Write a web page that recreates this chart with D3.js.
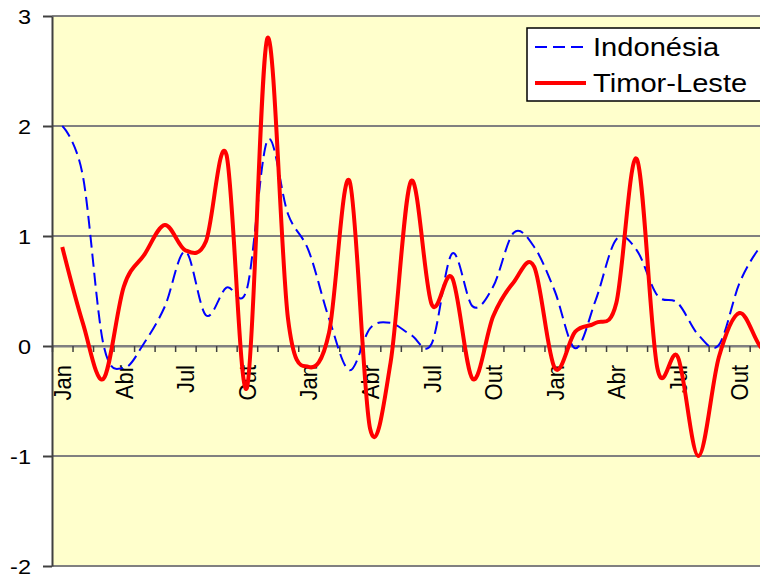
<!DOCTYPE html>
<html><head><meta charset="utf-8">
<script src="https://cdn.jsdelivr.net/npm/d3@7/dist/d3.min.js"></script>
<style>body{margin:0;background:#fff;} svg{display:block;} text{font-family:"Liberation Sans",Arial,sans-serif;fill:#000;}</style>
</head><body>
<script>
const months = ["Jan","Fev","Mar","Abr","Mai","Jun","Jul","Ago","Set","Out","Nov","Dez",
                "Jan","Fev","Mar","Abr","Mai","Jun","Jul","Ago","Set","Out","Nov","Dez",
                "Jan","Fev","Mar","Abr","Mai","Jun","Jul","Ago","Set","Out","Nov","Dez"];
const shownLabels = ["Jan","Abr","Jul","Out"];
const yTicks = [-2,-1,0,1,2,3];
const seriesNames = ["Indonésia","Timor-Leste"];
const indonesia = [2.0,1.55,0.02,-0.2,0.03,0.36,0.86,0.28,0.53,0.52,1.87,1.2,
                   0.87,0.25,-0.22,0.16,0.21,0.1,0.02,0.84,0.36,0.54,1.03,0.9,
                   0.5,-0.02,0.42,0.97,0.87,0.46,0.39,0.1,0.01,0.57,0.9,1.1];
const timor = [0.9,0.21,-0.3,0.54,0.83,1.1,0.87,0.95,1.74,-0.38,2.8,0.25,
               -0.19,0.12,1.5,-0.75,-0.15,1.5,0.38,0.62,-0.3,0.27,0.58,0.72,
               -0.2,0.13,0.21,0.39,1.7,-0.2,-0.1,-1.0,-0.1,0.3,0.0,-0.2];

(function () {
const W = 760, H = 574;
const pL = 52, pT = 16, pB = 566, step = 20.52;
const pR = pL + months.length * step;
const sx = 1.12;

const svg = d3.select("body").append("svg").attr("width", W).attr("height", H);
svg.append("rect").attr("width", W).attr("height", H).attr("fill", "#fff");

const x = d3.scaleLinear().domain([0, months.length]).range([pL, pR]);
const y = d3.scaleLinear().domain([-2, 3]).range([pB, pT]);

svg.append("rect").attr("x", pL).attr("y", pT).attr("width", pR - pL).attr("height", pB - pT).attr("fill", "#FFFFCC");

// gridlines
svg.append("g").selectAll("line").data(yTicks).join("line")
  .attr("x1", pL).attr("x2", pR).attr("y1", d => y(d)).attr("y2", d => y(d))
  .attr("stroke", "#808080").attr("stroke-width", 2);

// x axis (ticks at category boundaries)
const xAxis = d3.axisBottom(x).tickValues(d3.range(months.length + 1)).tickFormat("").tickSize(6).tickSizeOuter(0);
const gx = svg.append("g").attr("transform", `translate(0,${y(0)})`).call(xAxis);
gx.select(".domain").attr("stroke", "#808080").attr("stroke-width", 2);
gx.selectAll(".tick line").attr("stroke", "#404040").attr("stroke-width", 1.5);

// y axis
const yAxis = d3.axisLeft(y).tickValues(yTicks).tickFormat("").tickSize(9).tickSizeOuter(0);
const gy = svg.append("g").attr("transform", `translate(${pL},0)`).call(yAxis);
gy.select(".domain").attr("stroke", "#404040").attr("stroke-width", 2);
gy.selectAll(".tick line").attr("stroke", "#404040").attr("stroke-width", 2);

// y labels
svg.append("g").selectAll("text").data(yTicks).join("text")
  .attr("transform", d => `translate(31,${y(d)}) scale(${sx},1)`)
  .attr("text-anchor", "end").attr("dy", "0.36em")
  .attr("font-size", 21).text(d => d);

// x labels
const labelIdx = d3.range(months.length).filter(i => shownLabels.includes(months[i]) && i % 3 === 0);
svg.append("g").selectAll("text").data(labelIdx).join("text")
  .attr("transform", i => `translate(${x(i + 0.5)},365) scale(${sx},1) rotate(-90)`)
  .attr("text-anchor", "end").attr("dy", "0.36em")
  .attr("font-size", 22).text(i => months[i]);

// lines
const line = d3.line().x((d, i) => x(i + 0.5)).y(d => y(d)).curve(d3.curveCardinal.tension(0));
svg.append("path").datum(indonesia).attr("d", line).attr("fill", "none")
  .attr("stroke", "#0000FF").attr("stroke-width", 2).attr("stroke-dasharray", "13,6");
svg.append("path").datum(timor).attr("d", line).attr("fill", "none")
  .attr("stroke", "#FF0000").attr("stroke-width", 4).attr("stroke-linejoin", "round");

// legend
const lg = svg.append("g");
lg.append("rect").attr("x", 527).attr("y", 28).attr("width", 260).attr("height", 73)
  .attr("fill", "#fff").attr("stroke", "#000").attr("stroke-width", 1.5);
const leg = [{name: seriesNames[0], color: "#0000FF", w: 2, dash: "12,6", yy: 47},
             {name: seriesNames[1], color: "#FF0000", w: 4, dash: null, yy: 83}];
leg.forEach(l => {
  lg.append("line").attr("x1", 535).attr("x2", 586).attr("y1", l.yy).attr("y2", l.yy)
    .attr("stroke", l.color).attr("stroke-width", l.w).attr("stroke-dasharray", l.dash);
  lg.append("text").attr("transform", `translate(593,${l.yy + 8.5}) scale(${sx},1)`)
    .attr("font-size", 26).text(l.name);
});
})();
</script>
</body></html>
